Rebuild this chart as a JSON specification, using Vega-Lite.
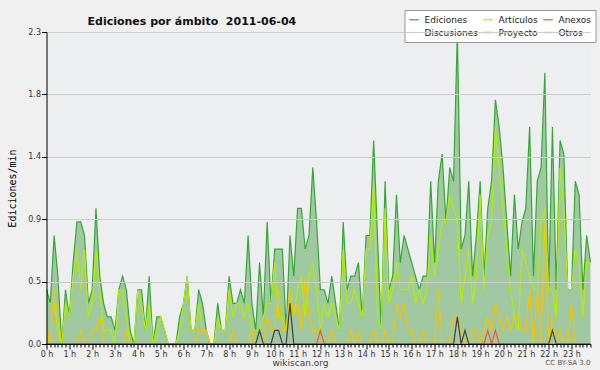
{
"$schema":"https://vega.github.io/schema/vega-lite/v6.json",
"width":544,"height":312,
"autosize":{"type":"none"},
"padding":{"left":46.5,"top":32,"right":9.5,"bottom":26},
"background":"#f0f0f0",
"config":{"view":{"fill":"#eceef0","stroke":null},"font":"DejaVu Sans"},
"title":{"text":"Ediciones por ámbito \u00a02011-06-04","anchor":"start","frame":"group","dx":41,"dy":17,"offset":0,"font":"DejaVu Sans","fontSize":11,"fontWeight":"bold","color":"#111111"},
"data":{"values":[
{"t":0,"Ediciones":0.4,"Artículos":0.3,"Discusiones":0.1,"Anexos":0,"Proyecto":0},
{"t":10,"Ediciones":0.3,"Artículos":0.3,"Discusiones":0,"Anexos":0,"Proyecto":0},
{"t":20,"Ediciones":0.8,"Artículos":0.3,"Discusiones":0.4,"Anexos":0,"Proyecto":0},
{"t":30,"Ediciones":0.5,"Artículos":0.1,"Discusiones":0.2,"Anexos":0,"Proyecto":0},
{"t":40,"Ediciones":0,"Artículos":0,"Discusiones":0,"Anexos":0,"Proyecto":0},
{"t":50,"Ediciones":0.4,"Artículos":0.3,"Discusiones":0,"Anexos":0,"Proyecto":0},
{"t":60,"Ediciones":0.2,"Artículos":0.2,"Discusiones":0,"Anexos":0,"Proyecto":0},
{"t":70,"Ediciones":0.6,"Artículos":0.5,"Discusiones":0,"Anexos":0,"Proyecto":0},
{"t":80,"Ediciones":0.9,"Artículos":0.7,"Discusiones":0,"Anexos":0,"Proyecto":0},
{"t":90,"Ediciones":0.9,"Artículos":0.4,"Discusiones":0.1,"Anexos":0,"Proyecto":0},
{"t":100,"Ediciones":0.8,"Artículos":0.7,"Discusiones":0,"Anexos":0,"Proyecto":0},
{"t":110,"Ediciones":0.3,"Artículos":0.2,"Discusiones":0,"Anexos":0,"Proyecto":0},
{"t":120,"Ediciones":0.4,"Artículos":0.3,"Discusiones":0.1,"Anexos":0,"Proyecto":0},
{"t":130,"Ediciones":1.0,"Artículos":0.7,"Discusiones":0.1,"Anexos":0,"Proyecto":0},
{"t":140,"Ediciones":0.5,"Artículos":0.4,"Discusiones":0.2,"Anexos":0,"Proyecto":0},
{"t":150,"Ediciones":0.3,"Artículos":0.1,"Discusiones":0,"Anexos":0,"Proyecto":0},
{"t":160,"Ediciones":0.2,"Artículos":0.1,"Discusiones":0,"Anexos":0,"Proyecto":0},
{"t":170,"Ediciones":0.2,"Artículos":0.1,"Discusiones":0,"Anexos":0,"Proyecto":0},
{"t":180,"Ediciones":0.1,"Artículos":0,"Discusiones":0,"Anexos":0,"Proyecto":0},
{"t":190,"Ediciones":0.4,"Artículos":0.4,"Discusiones":0,"Anexos":0,"Proyecto":0},
{"t":200,"Ediciones":0.5,"Artículos":0.4,"Discusiones":0,"Anexos":0,"Proyecto":0},
{"t":210,"Ediciones":0.4,"Artículos":0.2,"Discusiones":0.1,"Anexos":0,"Proyecto":0},
{"t":220,"Ediciones":0.1,"Artículos":0,"Discusiones":0,"Anexos":0,"Proyecto":0},
{"t":230,"Ediciones":0,"Artículos":0,"Discusiones":0,"Anexos":0,"Proyecto":0},
{"t":240,"Ediciones":0.4,"Artículos":0.4,"Discusiones":0,"Anexos":0,"Proyecto":0},
{"t":250,"Ediciones":0.4,"Artículos":0.3,"Discusiones":0,"Anexos":0,"Proyecto":0},
{"t":260,"Ediciones":0.1,"Artículos":0.1,"Discusiones":0,"Anexos":0,"Proyecto":0},
{"t":270,"Ediciones":0.5,"Artículos":0.3,"Discusiones":0,"Anexos":0,"Proyecto":0},
{"t":280,"Ediciones":0,"Artículos":0,"Discusiones":0,"Anexos":0,"Proyecto":0},
{"t":290,"Ediciones":0.2,"Artículos":0.1,"Discusiones":0,"Anexos":0,"Proyecto":0},
{"t":300,"Ediciones":0.2,"Artículos":0.2,"Discusiones":0,"Anexos":0,"Proyecto":0},
{"t":310,"Ediciones":0.1,"Artículos":0.1,"Discusiones":0,"Anexos":0,"Proyecto":0},
{"t":320,"Ediciones":0,"Artículos":0,"Discusiones":0,"Anexos":0,"Proyecto":0},
{"t":330,"Ediciones":0,"Artículos":0,"Discusiones":0,"Anexos":0,"Proyecto":0},
{"t":340,"Ediciones":0,"Artículos":0,"Discusiones":0,"Anexos":0,"Proyecto":0},
{"t":350,"Ediciones":0.2,"Artículos":0.1,"Discusiones":0,"Anexos":0,"Proyecto":0},
{"t":360,"Ediciones":0.3,"Artículos":0.3,"Discusiones":0,"Anexos":0,"Proyecto":0},
{"t":370,"Ediciones":0.5,"Artículos":0.5,"Discusiones":0,"Anexos":0,"Proyecto":0},
{"t":380,"Ediciones":0.1,"Artículos":0.1,"Discusiones":0,"Anexos":0,"Proyecto":0},
{"t":390,"Ediciones":0.1,"Artículos":0.1,"Discusiones":0,"Anexos":0,"Proyecto":0},
{"t":400,"Ediciones":0.4,"Artículos":0.3,"Discusiones":0.1,"Anexos":0,"Proyecto":0},
{"t":410,"Ediciones":0.3,"Artículos":0.1,"Discusiones":0.1,"Anexos":0,"Proyecto":0},
{"t":420,"Ediciones":0.1,"Artículos":0.1,"Discusiones":0.1,"Anexos":0,"Proyecto":0},
{"t":430,"Ediciones":0,"Artículos":0,"Discusiones":0,"Anexos":0,"Proyecto":0},
{"t":440,"Ediciones":0,"Artículos":0,"Discusiones":0,"Anexos":0,"Proyecto":0},
{"t":450,"Ediciones":0.3,"Artículos":0.2,"Discusiones":0,"Anexos":0,"Proyecto":0},
{"t":460,"Ediciones":0.1,"Artículos":0.1,"Discusiones":0,"Anexos":0,"Proyecto":0},
{"t":470,"Ediciones":0.1,"Artículos":0.1,"Discusiones":0,"Anexos":0,"Proyecto":0},
{"t":480,"Ediciones":0.5,"Artículos":0.4,"Discusiones":0,"Anexos":0,"Proyecto":0},
{"t":490,"Ediciones":0.3,"Artículos":0.2,"Discusiones":0.1,"Anexos":0,"Proyecto":0},
{"t":500,"Ediciones":0.3,"Artículos":0.3,"Discusiones":0,"Anexos":0,"Proyecto":0},
{"t":510,"Ediciones":0.4,"Artículos":0.3,"Discusiones":0,"Anexos":0,"Proyecto":0},
{"t":520,"Ediciones":0.3,"Artículos":0.2,"Discusiones":0,"Anexos":0,"Proyecto":0},
{"t":530,"Ediciones":0.8,"Artículos":0.3,"Discusiones":0,"Anexos":0,"Proyecto":0},
{"t":540,"Ediciones":0.3,"Artículos":0.1,"Discusiones":0.1,"Anexos":0,"Proyecto":0},
{"t":550,"Ediciones":0.1,"Artículos":0.1,"Discusiones":0,"Anexos":0,"Proyecto":0},
{"t":560,"Ediciones":0.6,"Artículos":0.1,"Discusiones":0,"Anexos":0,"Proyecto":0.1},
{"t":570,"Ediciones":0.2,"Artículos":0.2,"Discusiones":0,"Anexos":0,"Proyecto":0},
{"t":580,"Ediciones":0.9,"Artículos":0.3,"Discusiones":0.2,"Anexos":0,"Proyecto":0},
{"t":590,"Ediciones":0.3,"Artículos":0.3,"Discusiones":0.1,"Anexos":0,"Proyecto":0},
{"t":600,"Ediciones":0.7,"Artículos":0.6,"Discusiones":0.1,"Anexos":0,"Proyecto":0.1},
{"t":610,"Ediciones":0.7,"Artículos":0.2,"Discusiones":0.4,"Anexos":0,"Proyecto":0.1},
{"t":620,"Ediciones":0.7,"Artículos":0.2,"Discusiones":0.1,"Anexos":0,"Proyecto":0},
{"t":630,"Ediciones":0.1,"Artículos":0.1,"Discusiones":0.1,"Anexos":0,"Proyecto":0},
{"t":640,"Ediciones":0.8,"Artículos":0.4,"Discusiones":0.4,"Anexos":0,"Proyecto":0.3},
{"t":650,"Ediciones":0.5,"Artículos":0.2,"Discusiones":0.2,"Anexos":0,"Proyecto":0},
{"t":660,"Ediciones":1.0,"Artículos":0.4,"Discusiones":0.3,"Anexos":0,"Proyecto":0},
{"t":670,"Ediciones":1.0,"Artículos":0.5,"Discusiones":0.1,"Anexos":0,"Proyecto":0},
{"t":680,"Ediciones":0.7,"Artículos":0.2,"Discusiones":0.5,"Anexos":0,"Proyecto":0},
{"t":690,"Ediciones":0.8,"Artículos":0.5,"Discusiones":0.2,"Anexos":0,"Proyecto":0},
{"t":700,"Ediciones":1.3,"Artículos":0.6,"Discusiones":0.1,"Anexos":0,"Proyecto":0},
{"t":710,"Ediciones":0.9,"Artículos":0.4,"Discusiones":0.1,"Anexos":0,"Proyecto":0},
{"t":720,"Ediciones":0.4,"Artículos":0.1,"Discusiones":0.1,"Anexos":0.1,"Proyecto":0},
{"t":730,"Ediciones":0.4,"Artículos":0.3,"Discusiones":0,"Anexos":0,"Proyecto":0},
{"t":740,"Ediciones":0.3,"Artículos":0.2,"Discusiones":0,"Anexos":0,"Proyecto":0},
{"t":750,"Ediciones":0.5,"Artículos":0.3,"Discusiones":0.1,"Anexos":0,"Proyecto":0},
{"t":760,"Ediciones":0.3,"Artículos":0.2,"Discusiones":0,"Anexos":0,"Proyecto":0},
{"t":770,"Ediciones":0.1,"Artículos":0.1,"Discusiones":0,"Anexos":0,"Proyecto":0},
{"t":780,"Ediciones":0.9,"Artículos":0.7,"Discusiones":0,"Anexos":0,"Proyecto":0},
{"t":790,"Ediciones":0.4,"Artículos":0.3,"Discusiones":0,"Anexos":0,"Proyecto":0},
{"t":800,"Ediciones":0.5,"Artículos":0.3,"Discusiones":0.1,"Anexos":0,"Proyecto":0},
{"t":810,"Ediciones":0.5,"Artículos":0.4,"Discusiones":0,"Anexos":0,"Proyecto":0},
{"t":820,"Ediciones":0.6,"Artículos":0.3,"Discusiones":0.1,"Anexos":0,"Proyecto":0},
{"t":830,"Ediciones":0.2,"Artículos":0.2,"Discusiones":0,"Anexos":0,"Proyecto":0},
{"t":840,"Ediciones":0.8,"Artículos":0.7,"Discusiones":0,"Anexos":0,"Proyecto":0},
{"t":850,"Ediciones":0.8,"Artículos":0.7,"Discusiones":0,"Anexos":0,"Proyecto":0},
{"t":860,"Ediciones":1.5,"Artículos":1.2,"Discusiones":0.1,"Anexos":0,"Proyecto":0},
{"t":870,"Ediciones":0.8,"Artículos":0.2,"Discusiones":0,"Anexos":0,"Proyecto":0},
{"t":880,"Ediciones":0.1,"Artículos":0.1,"Discusiones":0,"Anexos":0,"Proyecto":0},
{"t":890,"Ediciones":1.2,"Artículos":1.0,"Discusiones":0.1,"Anexos":0,"Proyecto":0},
{"t":900,"Ediciones":0.4,"Artículos":0.3,"Discusiones":0,"Anexos":0,"Proyecto":0},
{"t":910,"Ediciones":0.5,"Artículos":0.4,"Discusiones":0,"Anexos":0,"Proyecto":0},
{"t":920,"Ediciones":1.1,"Artículos":0.6,"Discusiones":0.3,"Anexos":0,"Proyecto":0},
{"t":930,"Ediciones":0.6,"Artículos":0.4,"Discusiones":0.2,"Anexos":0,"Proyecto":0},
{"t":940,"Ediciones":0.8,"Artículos":0.4,"Discusiones":0.3,"Anexos":0,"Proyecto":0},
{"t":950,"Ediciones":0.7,"Artículos":0.4,"Discusiones":0.1,"Anexos":0,"Proyecto":0},
{"t":960,"Ediciones":0.6,"Artículos":0.5,"Discusiones":0.1,"Anexos":0,"Proyecto":0},
{"t":970,"Ediciones":0.5,"Artículos":0.3,"Discusiones":0,"Anexos":0,"Proyecto":0},
{"t":980,"Ediciones":0.4,"Artículos":0.4,"Discusiones":0,"Anexos":0,"Proyecto":0},
{"t":990,"Ediciones":0.5,"Artículos":0.3,"Discusiones":0.1,"Anexos":0,"Proyecto":0},
{"t":1000,"Ediciones":0.5,"Artículos":0.4,"Discusiones":0,"Anexos":0,"Proyecto":0},
{"t":1010,"Ediciones":1.2,"Artículos":0.8,"Discusiones":0,"Anexos":0,"Proyecto":0},
{"t":1020,"Ediciones":0.6,"Artículos":0.5,"Discusiones":0,"Anexos":0,"Proyecto":0},
{"t":1030,"Ediciones":1.2,"Artículos":0.7,"Discusiones":0.4,"Anexos":0,"Proyecto":0},
{"t":1040,"Ediciones":1.4,"Artículos":0.9,"Discusiones":0,"Anexos":0,"Proyecto":0},
{"t":1050,"Ediciones":0.9,"Artículos":0.9,"Discusiones":0,"Anexos":0,"Proyecto":0},
{"t":1060,"Ediciones":1.3,"Artículos":1.1,"Discusiones":0,"Anexos":0,"Proyecto":0},
{"t":1070,"Ediciones":1.2,"Artículos":1.0,"Discusiones":0.2,"Anexos":0,"Proyecto":0},
{"t":1080,"Ediciones":2.3,"Artículos":0.9,"Discusiones":0.2,"Anexos":0,"Proyecto":0.2},
{"t":1090,"Ediciones":0.7,"Artículos":0.3,"Discusiones":0.1,"Anexos":0,"Proyecto":0},
{"t":1100,"Ediciones":0.8,"Artículos":0.5,"Discusiones":0,"Anexos":0,"Proyecto":0.1},
{"t":1110,"Ediciones":1.2,"Artículos":0.7,"Discusiones":0,"Anexos":0,"Proyecto":0},
{"t":1120,"Ediciones":0.5,"Artículos":0.3,"Discusiones":0.1,"Anexos":0,"Proyecto":0},
{"t":1130,"Ediciones":0.8,"Artículos":0.5,"Discusiones":0.1,"Anexos":0,"Proyecto":0},
{"t":1140,"Ediciones":1.2,"Artículos":1.1,"Discusiones":0,"Anexos":0,"Proyecto":0},
{"t":1150,"Ediciones":0.5,"Artículos":0.4,"Discusiones":0.1,"Anexos":0,"Proyecto":0},
{"t":1160,"Ediciones":1.0,"Artículos":0.8,"Discusiones":0.2,"Anexos":0.1,"Proyecto":0},
{"t":1170,"Ediciones":1.2,"Artículos":0.9,"Discusiones":0.1,"Anexos":0,"Proyecto":0},
{"t":1180,"Ediciones":1.8,"Artículos":1.6,"Discusiones":0.3,"Anexos":0.1,"Proyecto":0},
{"t":1190,"Ediciones":1.6,"Artículos":1.3,"Discusiones":0.2,"Anexos":0,"Proyecto":0},
{"t":1200,"Ediciones":1.3,"Artículos":1.0,"Discusiones":0.1,"Anexos":0,"Proyecto":0},
{"t":1210,"Ediciones":0.9,"Artículos":0.7,"Discusiones":0.2,"Anexos":0,"Proyecto":0},
{"t":1220,"Ediciones":0.5,"Artículos":0.4,"Discusiones":0.1,"Anexos":0,"Proyecto":0},
{"t":1230,"Ediciones":1.1,"Artículos":0.2,"Discusiones":0.2,"Anexos":0,"Proyecto":0},
{"t":1240,"Ediciones":0.7,"Artículos":0.1,"Discusiones":0.2,"Anexos":0,"Proyecto":0},
{"t":1250,"Ediciones":0.9,"Artículos":0.7,"Discusiones":0.1,"Anexos":0,"Proyecto":0},
{"t":1260,"Ediciones":1.0,"Artículos":0.6,"Discusiones":0.1,"Anexos":0,"Proyecto":0},
{"t":1270,"Ediciones":1.6,"Artículos":0.5,"Discusiones":0.4,"Anexos":0,"Proyecto":0},
{"t":1280,"Ediciones":0.5,"Artículos":0.4,"Discusiones":0,"Anexos":0,"Proyecto":0},
{"t":1290,"Ediciones":1.2,"Artículos":0.4,"Discusiones":0.4,"Anexos":0,"Proyecto":0},
{"t":1300,"Ediciones":1.3,"Artículos":0.9,"Discusiones":0,"Anexos":0,"Proyecto":0},
{"t":1310,"Ediciones":2.0,"Artículos":1.0,"Discusiones":0.9,"Anexos":0,"Proyecto":0},
{"t":1320,"Ediciones":0.4,"Artículos":0.4,"Discusiones":0,"Anexos":0,"Proyecto":0},
{"t":1330,"Ediciones":1.6,"Artículos":0.4,"Discusiones":0.2,"Anexos":0,"Proyecto":0.1},
{"t":1340,"Ediciones":0.4,"Artículos":0.2,"Discusiones":0,"Anexos":0,"Proyecto":0},
{"t":1350,"Ediciones":1.5,"Artículos":1.3,"Discusiones":0.1,"Anexos":0,"Proyecto":0},
{"t":1360,"Ediciones":1.4,"Artículos":1.0,"Discusiones":0,"Anexos":0,"Proyecto":0},
{"t":1370,"Ediciones":0.4,"Artículos":0.4,"Discusiones":0,"Anexos":0,"Proyecto":0},
{"t":1380,"Ediciones":0.4,"Artículos":0.4,"Discusiones":0.3,"Anexos":0,"Proyecto":0},
{"t":1390,"Ediciones":1.2,"Artículos":0.7,"Discusiones":0,"Anexos":0,"Proyecto":0},
{"t":1400,"Ediciones":1.1,"Artículos":0.6,"Discusiones":0,"Anexos":0,"Proyecto":0},
{"t":1410,"Ediciones":0.4,"Artículos":0.2,"Discusiones":0,"Anexos":0,"Proyecto":0},
{"t":1420,"Ediciones":0.8,"Artículos":0.6,"Discusiones":0,"Anexos":0,"Proyecto":0},
{"t":1430,"Ediciones":0.6,"Artículos":0.6,"Discusiones":0,"Anexos":0,"Proyecto":0}
]},
"encoding":{
 "x":{"field":"t","type":"quantitative","scale":{"domain":[0,1430],"nice":false,"zero":false},
  "axis":{"title":"wikiscan.org","titleFont":"DejaVu Sans","titleFontSize":9,"titleFontWeight":"normal","titleColor":"#444444","titlePadding":0,"titleX":253.5,
   "values":[0,10,20,30,40,50,60,70,80,90,100,110,120,130,140,150,160,170,180,190,200,210,220,230,240,250,260,270,280,290,300,310,320,330,340,350,360,370,380,390,400,410,420,430,440,450,460,470,480,490,500,510,520,530,540,550,560,570,580,590,600,610,620,630,640,650,660,670,680,690,700,710,720,730,740,750,760,770,780,790,800,810,820,830,840,850,860,870,880,890,900,910,920,930,940,950,960,970,980,990,1000,1010,1020,1030,1040,1050,1060,1070,1080,1090,1100,1110,1120,1130,1140,1150,1160,1170,1180,1190,1200,1210,1220,1230,1240,1250,1260,1270,1280,1290,1300,1310,1320,1330,1340,1350,1360,1370,1380,1390,1400,1410,1420,1430],
   "labelExpr":"datum.value % 60 === 0 ? (datum.value/60) + ' h' : ''",
   "labelOverlap":false,"labelFlush":false,"labelBound":false,"labelFontSize":8,"labelColor":"#333333","labelPadding":1,
   "tickSize":{"condition":{"test":"datum.value % 60 === 0","value":5},"value":3},
   "tickColor":"#000000","domainColor":"#000000","grid":false,"zindex":1}}
},
"layer":[
{"mark":{"type":"area","color":"#449a40","opacity":0.45},
 "encoding":{
  "y":{"field":"Ediciones","type":"quantitative","scale":{"domain":[0,2.3],"nice":false},
   "axis":{"title":"Ediciones/min","titleFont":"DejaVu Sans Mono","titleFontSize":10,"titleFontWeight":"normal","titleColor":"#000000","titlePadding":10,
    "values":[0,0.115,0.23,0.345,0.46,0.575,0.69,0.805,0.92,1.035,1.15,1.265,1.38,1.495,1.61,1.725,1.84,1.955,2.07,2.185,2.3],
    "labelExpr":"round(datum.value/0.115) % 4 === 0 ? format(datum.value, '.1f') : ''",
    "labelOverlap":false,"labelFontSize":8,"labelColor":"#333333","labelPadding":1,
    "tickSize":{"condition":{"test":"round(datum.value/0.115) % 4 === 0","value":5},"value":3},
    "tickColor":"#000000","domainColor":"#000000","grid":true,"gridColor":"#cccccc",
    "gridOpacity":{"condition":{"test":"round(datum.value/0.115) % 4 === 0","value":1},"value":0},"zindex":1}}
 }},
{"transform":[{"fold":["Ediciones","Artículos","Discusiones","Anexos","Proyecto"],"as":["serie","valor"]}],
 "mark":{"type":"line","strokeWidth":1.2},
 "encoding":{
  "y":{"field":"valor","type":"quantitative"},
  "color":{"field":"serie","type":"nominal",
   "scale":{"domain":["Ediciones","Artículos","Anexos","Discusiones","Proyecto","Otros"],"range":["#37a837","#b2ee00","#f05a28","#f5c400","#404040","#9b30f0"]},
   "legend":{"title":null,"orient":"none","direction":"horizontal","legendX":358,"legendY":-22,"columns":3,"symbolType":"stroke","symbolSize":90,"symbolStrokeWidth":1.2,
    "labelFont":"DejaVu Sans","labelFontSize":9,"labelColor":"#222222","labelOffset":5,"columnPadding":2,"rowPadding":2,
    "fillColor":"#ffffff","strokeColor":"#999999","padding":4}}
 }},
{"data":{"values":[{"t":1430}]},
 "mark":{"type":"text","text":"CC BY-SA 3.0","align":"right","baseline":"top","dy":15,"dx":0,"fontSize":7,"color":"#555555"},
 "encoding":{"y":{"datum":0,"type":"quantitative"}}}
]
}
